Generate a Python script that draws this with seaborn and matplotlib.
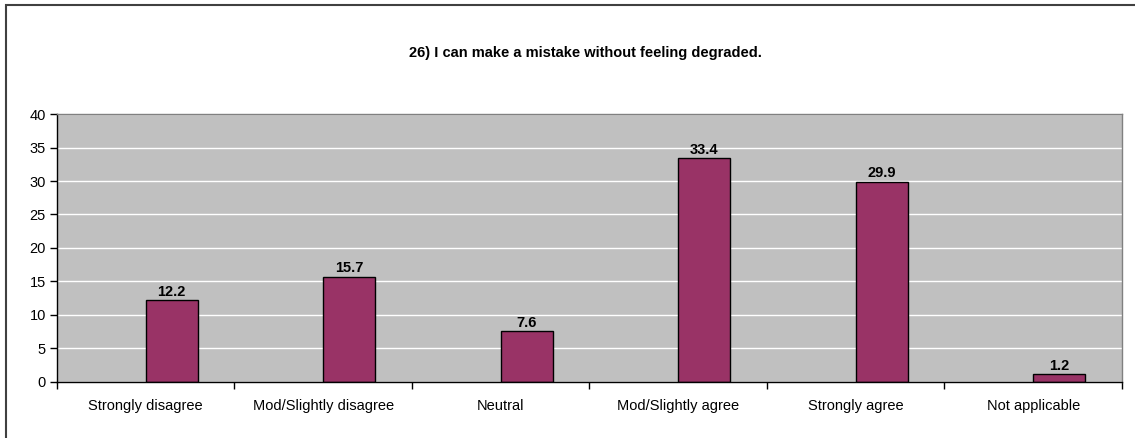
import pandas as pd
import matplotlib.pyplot as plt
import seaborn as sns
from matplotlib.patches import Rectangle

# Data
categories = ["Strongly disagree", "Mod/Slightly disagree", "Neutral",
              "Mod/Slightly agree", "Strongly agree", "Not applicable"]
values = [12.2, 15.7, 7.6, 33.4, 29.9, 1.2]
title = "26) I can make a mistake without feeling degraded."

# Excel draws this as the second of two series, the first one is empty
data = pd.DataFrame({
    "category": categories * 2,
    "value": [float("nan")] * len(categories) + values,
    "series": ["blank"] * len(categories) + ["shown"] * len(categories),
})

sns.set_style("white")
plt.rcParams["font.family"] = ["Liberation Sans", "DejaVu Sans"]
plt.rcParams["text.color"] = "black"
plt.rcParams["xtick.color"] = "black"
plt.rcParams["ytick.color"] = "black"

fig = plt.figure(figsize=(11.35, 4.38), dpi=100)
ax = fig.add_axes([0.0502, 0.1279, 0.9383, 0.6118])

sns.barplot(data=data, x="category", y="value", hue="series",
            hue_order=["blank", "shown"], order=categories,
            palette=["#993366", "#993366"], width=0.586, dodge=True,
            saturation=1, edgecolor="black", linewidth=1, legend=False, ax=ax)

ax.set_facecolor("#C0C0C0")
ax.set_ylim(0, 40)
ax.set_yticks(range(0, 45, 5))
ax.set_xlim(-0.5, len(categories) - 0.5)
ax.yaxis.grid(True, color="white", linewidth=1)
ax.set_axisbelow(True)
ax.set_xlabel("")
ax.set_ylabel("")

# Tick marks at the category boundaries, labels at centres
ax.set_xticks([i - 0.5 for i in range(len(categories) + 1)], minor=True)
ax.tick_params(axis="x", which="major", bottom=True, length=0, pad=12, labelsize=10.5)
ax.tick_params(axis="x", which="minor", bottom=True, length=5, width=1,
               color="black", direction="out")
ax.tick_params(axis="y", left=True, length=5, width=1, color="black",
               direction="out", labelsize=10.5, pad=3)

for side in ["left", "bottom"]:
    ax.spines[side].set_color("black")
    ax.spines[side].set_linewidth(1)
for side in ["top", "right"]:
    ax.spines[side].set_color("#808080")
    ax.spines[side].set_linewidth(1)

for c in ax.containers:
    ax.bar_label(c, fmt="%.1f", padding=1, fontsize=10.5, fontweight="bold", color="black")

fig.text(0.516, 0.878, title, ha="center", va="center", fontsize=10.5,
         fontweight="bold", color="black")

# Outer chart border (only the top and left edges show in the crop)
fig.patches.append(Rectangle((0.0053, -0.1), 1.1, 1.0886, transform=fig.transFigure,
                             fill=False, edgecolor="#404040", linewidth=1.5))

fig.savefig("out.png", dpi=100)
